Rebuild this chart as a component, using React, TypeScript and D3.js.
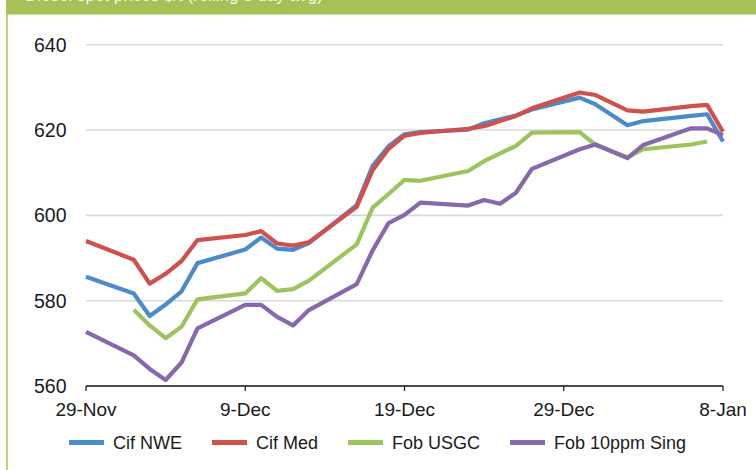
import React, { useEffect } from "react";
import * as d3 from "d3";

// ---- data (2013/14 business days) ----
const dates = [
  "2013-11-29", "2013-12-02", "2013-12-03", "2013-12-04", "2013-12-05", "2013-12-06",
  "2013-12-09", "2013-12-10", "2013-12-11", "2013-12-12", "2013-12-13",
  "2013-12-16", "2013-12-17", "2013-12-18", "2013-12-19", "2013-12-20",
  "2013-12-23", "2013-12-24", "2013-12-25", "2013-12-26", "2013-12-27",
  "2013-12-30", "2013-12-31", "2014-01-02", "2014-01-03",
  "2014-01-06", "2014-01-07", "2014-01-08",
];

const cifNWE: (number | null)[] = [
  585.6, 581.7, 576.4, 579.1, 582.2, 588.8,
  592.0, 594.8, 592.2, 591.9, 593.5,
  602.4, 611.6, 616.2, 619.0, 619.5,
  620.1, 621.6, null, 623.4, 624.8,
  627.6, 626.0, 621.1, 622.1,
  623.3, 623.7, 617.3,
];

const cifMed: (number | null)[] = [
  594.0, 589.6, 584.0, 586.3, 589.3, 594.2,
  595.4, 596.3, 593.4, 592.9, 593.7,
  602.0, 610.6, 615.6, 618.7, 619.3,
  620.3, 620.9, null, 623.3, 625.1,
  628.8, 628.2, 624.6, 624.3,
  625.6, 625.9, 619.6,
];

const fobUSGC: (number | null)[] = [
  null, 577.9, 574.2, 571.2, 573.9, 580.3,
  581.7, 585.3, 582.3, 582.7, 584.7,
  593.2, 601.8, 605.0, 608.3, 608.1,
  610.4, 612.7, null, 616.3, 619.4,
  619.5, 616.5, 613.6, 615.5,
  616.6, 617.3, null,
];

const fobSing: (number | null)[] = [
  572.7, 567.2, 564.0, 561.4, 565.5, 573.5,
  579.0, 579.0, 576.2, 574.2, 577.8,
  583.9, 591.8, 598.2, 600.1, 603.0,
  602.3, 603.6, 602.7, 605.3, 610.9,
  615.5, 616.6, 613.4, 616.5,
  620.4, 620.4, 618.8,
];

const seriesNames = ["Cif NWE", "Cif Med", "Fob USGC", "Fob 10ppm Sing"];
const seriesValues = [cifNWE, cifMed, fobUSGC, fobSing];
const seriesColors = ["#4A8BCB", "#D0514C", "#9DC45C", "#8767AD"];

const yTicks = [560, 580, 600, 620, 640];
const xTickDates = ["2013-11-29", "2013-12-09", "2013-12-19", "2013-12-29", "2014-01-08"];
const xTickLabels = ["29-Nov", "9-Dec", "19-Dec", "29-Dec", "8-Jan"];
const titleText = "Diesel spot prices $/t (rolling 3 day avg)";

// ---- layout ----
const W = 756;
const H = 470;
const FONT = "'Liberation Sans', Arial, Helvetica, sans-serif";
const parse = d3.utcParse("%Y-%m-%d");

function measure(text: string, size: number): number {
  if (typeof document === "undefined") return text.length * size * 0.55;
  const c = document.createElement("canvas");
  const ctx = c.getContext("2d");
  if (!ctx) return text.length * size * 0.55;
  ctx.font = `${size}px 'Liberation Sans', Arial, sans-serif`;
  return ctx.measureText(text).width;
}

export default function App() {
  useEffect(() => {
    document.body.style.margin = "0";
  }, []);

  const x = d3
    .scaleUtc()
    .domain([parse(xTickDates[0])!, parse(xTickDates[xTickDates.length - 1])!])
    .range([86, 723]);
  const y = d3.scaleLinear().domain([560, 640]).range([386, 44.7]);

  const parsedDates = dates.map((d) => parse(d)!);

  const lineGen = d3
    .line<{ d: Date; v: number }>()
    .x((p) => x(p.d))
    .y((p) => y(p.v));

  // legend layout
  const legendSize = 18;
  const lineLen = 35;
  const gapLT = 9;
  const gapItem = 30;
  let lx = 69;
  const legendItems = seriesNames.map((name, i) => {
    const item = { name, color: seriesColors[i], x: lx };
    lx += lineLen + gapLT + measure(name, legendSize) + gapItem;
    return item;
  });

  return (
    <svg
      width={W}
      height={H}
      viewBox={`0 0 ${W} ${H}`}
      style={{ display: "block", position: "absolute", left: 0, top: 0, background: "#fff" }}
      fontFamily={FONT}
    >
      <rect x={0} y={0} width={W} height={H} fill="#fff" />
      {/* header band */}
      <rect x={6} y={0} width={W - 6} height={14.5} fill="#A6C157" />
      <text x={25} y={1.2} fill="#fff" fontSize={17} opacity={0.9}>
        {titleText}
      </text>
      {/* left frame line */}
      <line x1={7} x2={7} y1={0} y2={H} stroke="#A6C157" strokeWidth={1.5} />

      {/* gridlines */}
      {yTicks
        .filter((t) => t !== 560)
        .map((t) => (
          <line
            key={"g" + t}
            x1={x.range()[0]}
            x2={x.range()[1]}
            y1={y(t)}
            y2={y(t)}
            stroke="#D9D9D9"
            strokeWidth={1.6}
          />
        ))}

      {/* y tick labels */}
      {yTicks.map((t) => (
        <text
          key={"yl" + t}
          x={66.5}
          y={y(t)}
          dy="0.36em"
          textAnchor="end"
          fontSize={19.5}
          fill="#1a1a1a"
        >
          {t}
        </text>
      ))}

      {/* series */}
      {seriesValues.map((vals, i) => {
        const pts = vals
          .map((v, j) => (v == null ? null : { d: parsedDates[j], v }))
          .filter((p): p is { d: Date; v: number } => p !== null);
        return (
          <path
            key={seriesNames[i]}
            d={lineGen(pts) || ""}
            fill="none"
            stroke={seriesColors[i]}
            strokeWidth={4.2}
            strokeLinejoin="round"
            strokeLinecap="butt"
          />
        );
      })}

      {/* x axis */}
      <line
        x1={x.range()[0]}
        x2={x.range()[1]}
        y1={y(560)}
        y2={y(560)}
        stroke="#111"
        strokeWidth={1.6}
      />
      {xTickDates.map((d, i) => {
        const px = x(parse(d)!);
        return (
          <g key={"xt" + d}>
            <line x1={px} x2={px} y1={y(560)} y2={y(560) + 5} stroke="#111" strokeWidth={1.2} />
            <text x={px} y={416} textAnchor="middle" fontSize={19} fill="#1a1a1a">
              {xTickLabels[i]}
            </text>
          </g>
        );
      })}

      {/* legend */}
      {legendItems.map((it) => (
        <g key={"lg" + it.name}>
          <line
            x1={it.x}
            x2={it.x + lineLen}
            y1={442.5}
            y2={442.5}
            stroke={it.color}
            strokeWidth={5}
          />
          <text x={it.x + lineLen + gapLT} y={449} fontSize={legendSize} fill="#1a1a1a">
            {it.name}
          </text>
        </g>
      ))}
    </svg>
  );
}
